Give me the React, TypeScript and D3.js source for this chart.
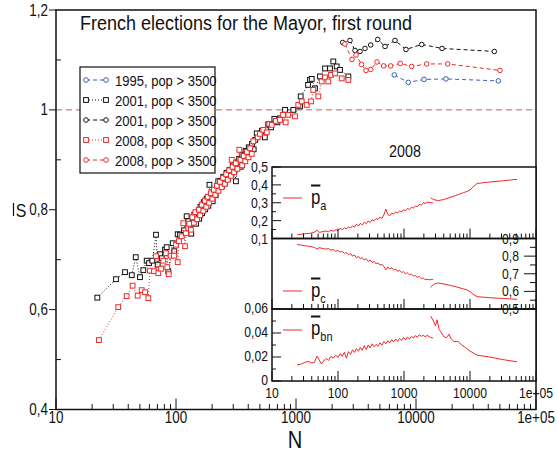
import React from 'react';
import * as d3 from 'd3';

// ---------- data ----------
const n1995 = [6590, 8630, 11660, 17780, 48530];
const s1995 = [1.070, 1.055, 1.061, 1.062, 1.058];

const n2001hi = [2449, 2818, 3102, 3414, 3758, 4193, 4797, 5521, 6683, 8254, 11154, 16480, 44928];
const s2001hi = [1.135, 1.139, 1.119, 1.117, 1.123, 1.130, 1.141, 1.127, 1.139, 1.121, 1.131, 1.123, 1.117];

const n2008hi = [2557, 2930, 3162, 3514, 3831, 4193, 4732, 5370, 6150, 7396, 9204, 12274, 18365, 50119];
const s2008hi = [1.132, 1.101, 1.110, 1.091, 1.079, 1.081, 1.096, 1.088, 1.088, 1.093, 1.087, 1.092, 1.092, 1.079];

const n2001lo = [22.1, 31.6, 37.6, 42.8, 46.2, 50.1, 53.4, 57.0, 59.6, 63.5, 68.1, 70.4, 73.6, 76.0, 81.0, 83.6, 86.3, 93.9, 96.8, 103.3, 108, 116.6, 122.7, 126.6,
  130, 134, 138, 142, 147, 151, 156, 160, 165, 170, 175, 180, 186, 190, 196, 202, 208, 214, 220, 225, 234, 241, 248, 256, 264, 272, 280, 289, 298, 307, 316, 326, 336, 346, 357, 368, 380, 392, 404, 417, 430, 444, 458, 471,
  520, 550, 587, 620, 660, 700, 736, 810, 950, 1080, 1094, 1260, 1308, 1352, 1440, 1585, 1745, 1920, 2046, 2184, 2327, 2730];
const s2001lo = [0.624, 0.661, 0.675, 0.669, 0.705, 0.665, 0.679, 0.698, 0.693, 0.698, 0.750, 0.690, 0.711, 0.703, 0.720, 0.725, 0.677, 0.733, 0.717, 0.751, 0.750, 0.759, 0.787, 0.777,
  0.768, 0.752, 0.781, 0.790, 0.772, 0.795, 0.782, 0.806, 0.793, 0.815, 0.801, 0.822, 0.808, 0.850, 0.826, 0.817, 0.838, 0.829, 0.845, 0.857, 0.858, 0.848, 0.866, 0.853, 0.874, 0.862, 0.880, 0.871, 0.889, 0.878, 0.857, 0.895, 0.902, 0.886, 0.910, 0.899, 0.918, 0.906, 0.925, 0.914, 0.932, 0.921, 0.940, 0.953,
  0.958, 0.945, 0.971, 0.965, 0.982, 0.975, 0.983, 1.000, 1.000, 1.007, 1.027, 1.050, 1.060, 1.062, 1.043, 1.067, 1.083, 1.083, 1.097, 1.087, 1.080, 1.067];

const n2008lo = [22.8, 33.0, 38.8, 43.5, 47.9, 51.8, 55.2, 58.8, 60.7, 65.6, 68.1, 71.2, 75.0, 78.4, 82.5, 84.6, 86.9, 90.3, 96.2, 100, 103.3, 105.9, 111.5, 115.1, 118.9, 121.2, 126.6,
  129, 133, 137, 141, 145, 150, 155, 159, 164, 169, 174, 179, 184, 189, 195, 201, 207, 213, 219, 226, 233, 240, 247, 255, 262, 270, 278, 287, 291, 296, 305, 315, 325, 337, 345, 356, 367, 378, 390, 402, 415, 428, 441,
  480, 500, 534, 570, 600, 628, 680, 736, 780, 820, 862, 981, 1045, 1116, 1228, 1334, 1393, 1534, 1637, 1745, 1860, 1958, 2113, 2404, 2730];
const s2008lo = [0.539, 0.605, 0.627, 0.648, 0.628, 0.639, 0.635, 0.623, 0.678, 0.677, 0.707, 0.673, 0.682, 0.698, 0.713, 0.685, 0.671, 0.708, 0.708, 0.730, 0.695, 0.737, 0.747, 0.773, 0.727, 0.753, 0.763,
  0.772, 0.760, 0.785, 0.774, 0.795, 0.781, 0.800, 0.789, 0.810, 0.798, 0.818, 0.806, 0.826, 0.814, 0.833, 0.822, 0.840, 0.830, 0.848, 0.838, 0.856, 0.845, 0.864, 0.852, 0.871, 0.860, 0.879, 0.868, 0.900, 0.886, 0.875, 0.893, 0.882, 0.920, 0.900, 0.889, 0.908, 0.897, 0.916, 0.905, 0.923, 0.912, 0.937,
  0.945, 0.952, 0.960, 0.955, 0.972, 0.970, 0.978, 0.980, 0.990, 0.975, 0.990, 0.987, 1.010, 1.017, 1.010, 1.017, 1.040, 1.027, 1.057, 1.065, 1.057, 1.070, 1.073, 1.063, 1.060];

// inset (2008) data
const nInsetA = [24, 28, 32, 36, 40, 44, 48, 52, 56, 60, 66, 72, 78, 85, 92, 100, 108, 116, 125, 134, 144, 155, 166, 178, 190, 204, 218, 233, 250, 268, 287, 307, 329, 352, 377, 404, 432, 463, 496, 531, 569, 609, 652, 698, 748, 801, 858, 919, 984, 1054, 1129, 1209, 1295, 1387, 1485, 1591, 1704, 1825, 1955, 2094, 2243, 2402, 2573, 2756];
const nInsetB = [2540, 2800, 3310, 4000, 5000, 6000, 7000, 8000, 9000, 10000, 11000, 12800, 20000, 30000, 51600];
const nInsetBn = [2540, 2800, 3000, 3170, 3400, 3600, 4000, 4400, 4800, 5200, 5700, 6570, 7500, 8920, 10000, 12760, 20000, 30000, 51600];

const paA = [0.121, 0.124, 0.127, 0.128, 0.131, 0.136, 0.146, 0.134, 0.137, 0.139, 0.142, 0.138, 0.146, 0.141, 0.149, 0.145, 0.156, 0.150, 0.160, 0.153, 0.166, 0.158, 0.171, 0.163, 0.180, 0.170, 0.185, 0.176, 0.191, 0.183, 0.198, 0.190, 0.205, 0.199, 0.212, 0.206, 0.219, 0.212, 0.232, 0.265, 0.234, 0.228, 0.243, 0.236, 0.249, 0.243, 0.255, 0.248, 0.261, 0.255, 0.268, 0.262, 0.275, 0.270, 0.282, 0.278, 0.291, 0.286, 0.300, 0.296, 0.304, 0.302, 0.300, 0.299];
const paB = [0.327, 0.318, 0.312, 0.318, 0.330, 0.340, 0.349, 0.357, 0.363, 0.371, 0.386, 0.408, 0.416, 0.422, 0.431];

const pcA = [0.866, 0.862, 0.858, 0.856, 0.853, 0.849, 0.840, 0.848, 0.845, 0.842, 0.840, 0.843, 0.834, 0.838, 0.828, 0.832, 0.822, 0.827, 0.815, 0.821, 0.808, 0.814, 0.800, 0.807, 0.790, 0.799, 0.785, 0.792, 0.778, 0.785, 0.770, 0.778, 0.764, 0.770, 0.756, 0.762, 0.748, 0.754, 0.741, 0.722, 0.738, 0.728, 0.734, 0.721, 0.727, 0.714, 0.719, 0.708, 0.712, 0.700, 0.705, 0.694, 0.698, 0.687, 0.690, 0.680, 0.684, 0.673, 0.676, 0.667, 0.668, 0.666, 0.667, 0.668];
const pcB = [0.622, 0.640, 0.648, 0.642, 0.634, 0.627, 0.620, 0.614, 0.608, 0.598, 0.585, 0.570, 0.564, 0.560, 0.555];

const pbnA = [0.0133, 0.0142, 0.0158, 0.0162, 0.0150, 0.0155, 0.0208, 0.0175, 0.0142, 0.0165, 0.0188, 0.0172, 0.0205, 0.0190, 0.0215, 0.0198, 0.0228, 0.0205, 0.0240, 0.0190, 0.0245, 0.0222, 0.0260, 0.0238, 0.0270, 0.0248, 0.0280, 0.0255, 0.0295, 0.0262, 0.0300, 0.0275, 0.0310, 0.0285, 0.0305, 0.0290, 0.0318, 0.0298, 0.0330, 0.0310, 0.0335, 0.0318, 0.0345, 0.0325, 0.0350, 0.0330, 0.0355, 0.0338, 0.0362, 0.0345, 0.0365, 0.0350, 0.0372, 0.0358, 0.0378, 0.0365, 0.0385, 0.0372, 0.0382, 0.0368, 0.0380, 0.0370, 0.0362, 0.0358];
const pbnB = [0.054, 0.050, 0.046, 0.051, 0.043, 0.041, 0.037, 0.036, 0.039, 0.035, 0.033, 0.033, 0.030, 0.027, 0.025, 0.0215, 0.020, 0.018, 0.016];

// ticks / labels
const xTicks = [10, 100, 1000, 10000, 100000];
const xTickLabels = ['10', '100', '1000', '10000', '1e+05'];
const yMainTicks = [0.4, 0.6, 0.8, 1.0, 1.2];
const yMainLabels = ['0,4', '0,6', '0,8', '1', '1,2'];
const yMainMinor = [0.5, 0.7, 0.9, 1.1];
const yATicks = [0.1, 0.2, 0.3, 0.4, 0.5];
const yALabels = ['0,1', '0,2', '0,3', '0,4', '0,5'];
const yCTicks = [0.5, 0.6, 0.7, 0.8, 0.9];
const yCLabels = ['0,5', '0,6', '0,7', '0,8', '0,9'];
const yBnTicks = [0, 0.02, 0.04, 0.06];
const yBnLabels = ['0', '0,02', '0,04', '0,06'];

const legendLabels = ['1995, pop > 3500', '2001, pop < 3500', '2001, pop > 3500', '2008, pop < 3500', '2008, pop > 3500'];

const title = 'French elections for the Mayor, first round';

// ---------- style ----------
const FONT = "'Liberation Sans', Arial, sans-serif";
const SX = 0.84; // horizontal condensing to mimic a narrow face
const BLUE = '#3b5bb5';
const RED = '#f02828';
const BLACK = '#111';

const xMain = d3.scaleLog().domain([10, 1e5]).range([56, 536]);
const yMain = d3.scaleLinear().domain([0.4, 1.2]).range([409.5, 10]);
const xIn = d3.scaleLog().domain([10, 1e5]).range([272, 536]);
const yA = d3.scaleLinear().domain([0.1, 0.5]).range([238.5, 167]);
const yC = d3.scaleLinear().domain([0.5, 0.9]).range([309, 238.5]);
const yBn = d3.scaleLinear().domain([0, 0.06]).range([381, 309]);

const minorLog: number[] = [];
[10, 100, 1000, 10000].forEach(d => { for (let k = 2; k <= 9; k++) minorLog.push(d * k); });

function zip(a: number[], b: number[]): [number, number][] { return a.map((v, i) => [v, b[i]]); }

function T({ x, y, size, anchor = 'start', children }: { x: number; y: number; size: number; anchor?: string; children: React.ReactNode }) {
  return (
    <text transform={`translate(${x},${y}) scale(${SX},1)`} fontSize={size} textAnchor={anchor as any} fill={BLACK}>{children}</text>
  );
}

function Series({ ns, ss, color, shape, dash }: { ns: number[]; ss: number[]; color: string; shape: 'c' | 's'; dash: string }) {
  const pts = zip(ns, ss);
  const line = d3.line<[number, number]>().x(d => xMain(d[0])).y(d => yMain(d[1]));
  return (
    <g>
      <path d={line(pts) || ''} fill="none" stroke={color} strokeWidth={1} strokeDasharray={dash} />
      {pts.map((p, i) => shape === 'c'
        ? <circle key={i} cx={xMain(p[0])} cy={yMain(p[1])} r={2.3} fill="white" stroke={color} strokeWidth={1} />
        : <rect key={i} x={xMain(p[0]) - 2.4} y={yMain(p[1]) - 2.4} width={4.8} height={4.8} fill="white" stroke={color} strokeWidth={1} />)}
    </g>
  );
}

function InsetLine({ ns, vs, y }: { ns: number[]; vs: number[]; y: d3.ScaleLinear<number, number> }) {
  const line = d3.line<[number, number]>().x(d => xIn(d[0])).y(d => y(d[1]));
  return <path d={line(zip(ns, vs)) || ''} fill="none" stroke={RED} strokeWidth={1} />;
}

function InsetXTicks({ y0 }: { y0: number }) {
  return (
    <g stroke={BLACK} strokeWidth={1}>
      {xTicks.map(t => <line key={'M' + t} x1={xIn(t)} x2={xIn(t)} y1={y0} y2={y0 - 10} />)}
      {minorLog.map(t => <line key={'m' + t} x1={xIn(t)} x2={xIn(t)} y1={y0} y2={y0 - 5} />)}
    </g>
  );
}

function LegendSym({ y, color, shape, dash }: { y: number; color: string; shape: 'c' | 's'; dash: string }) {
  const xs = [86, 106];
  return (
    <g>
      <line x1={xs[0]} x2={xs[1]} y1={y} y2={y} stroke={color} strokeDasharray={dash} strokeWidth={1} />
      {xs.map((x, i) => shape === 'c'
        ? <circle key={i} cx={x} cy={y} r={2.3} fill="white" stroke={color} />
        : <rect key={i} x={x - 2.4} y={y - 2.4} width={4.8} height={4.8} fill="white" stroke={color} />)}
    </g>
  );
}

function PLabel({ x, y, sub }: { x: number; y: number; sub: string }) {
  return (
    <text transform={`translate(${x},${y}) scale(${SX},1)`} fontSize={20} fill={BLACK}>
      <tspan style={{ textDecoration: 'overline' }}>p</tspan>
      <tspan fontSize={13} dy={6}>{sub}</tspan>
    </text>
  );
}

export default function App() {
  const legendRows = [
    { color: BLUE, shape: 'c' as const, dash: '4,3' },
    { color: BLACK, shape: 's' as const, dash: '1,2' },
    { color: BLACK, shape: 'c' as const, dash: '4,3' },
    { color: RED, shape: 's' as const, dash: '1,2' },
    { color: RED, shape: 'c' as const, dash: '4,3' },
  ];
  return (
    <svg width={557} height={452} style={{ position: 'absolute', left: 0, top: 0, background: 'white' }} fontFamily={FONT}>
      <rect x={0} y={0} width={557} height={452} fill="white" />
      {/* dashed reference line S=1 */}
      <line x1={xMain(10)} x2={xMain(1e5)} y1={yMain(1)} y2={yMain(1)} stroke="#b86464" strokeDasharray="6,4" strokeWidth={1} />

      {/* main series */}
      <Series ns={n2001lo} ss={s2001lo} color={BLACK} shape="s" dash="1,2" />
      <Series ns={n2008lo} ss={s2008lo} color={RED} shape="s" dash="1,2" />
      <Series ns={n1995} ss={s1995} color={BLUE} shape="c" dash="4,3" />
      <Series ns={n2001hi} ss={s2001hi} color={BLACK} shape="c" dash="4,3" />
      <Series ns={n2008hi} ss={s2008hi} color={RED} shape="c" dash="4,3" />

      {/* main frame */}
      <rect x={56} y={10} width={480} height={399.5} fill="none" stroke={BLACK} strokeWidth={1.5} />
      <g stroke={BLACK} strokeWidth={1}>
        {xTicks.map(t => <line key={'M' + t} x1={xMain(t)} x2={xMain(t)} y1={409.5} y2={398.5} />)}
        {minorLog.map(t => <line key={'m' + t} x1={xMain(t)} x2={xMain(t)} y1={409.5} y2={404} />)}
        {yMainTicks.map(t => <line key={'Y' + t} x1={49} x2={56} y1={yMain(t)} y2={yMain(t)} />)}
        {yMainMinor.map(t => <line key={'y' + t} x1={56} x2={61} y1={yMain(t)} y2={yMain(t)} />)}
      </g>
      {xTicks.map((t, i) => <T key={t} x={xMain(t)} y={423} size={16} anchor="middle">{xTickLabels[i]}</T>)}
      {yMainTicks.map((t, i) => <T key={t} x={48} y={yMain(t) + 5.5} size={16} anchor="end">{yMainLabels[i]}</T>)}
      <T x={295} y={448} size={24} anchor="middle">N</T>
      <T x={21} y={217} size={19} anchor="middle">S</T>
      <line x1={13.5} x2={13.5} y1={203} y2={216} stroke={BLACK} strokeWidth={1.2} />

      {/* title */}
      <text x={80} y={30} fontSize={20} textLength={332} lengthAdjust="spacingAndGlyphs" fill={BLACK}>{title}</text>

      {/* legend */}
      <rect x={80} y={67} width={135} height={106} fill="white" stroke={BLACK} strokeWidth={1.2} />
      {legendRows.map((r, i) => {
        const y = 80 + i * 20;
        return (
          <g key={i}>
            <LegendSym y={y} color={r.color} shape={r.shape} dash={r.dash} />
            <T x={115} y={y + 5.5} size={15.5}>{legendLabels[i]}</T>
          </g>
        );
      })}

      {/* inset */}
      <T x={405} y={157} size={17} anchor="middle">2008</T>
      <rect x={272} y={167} width={264} height={214} fill="white" />
      <InsetLine ns={nInsetA} vs={paA} y={yA} />
      <InsetLine ns={nInsetB} vs={paB} y={yA} />
      <InsetLine ns={nInsetA} vs={pcA} y={yC} />
      <InsetLine ns={nInsetB} vs={pcB} y={yC} />
      <InsetLine ns={nInsetA} vs={pbnA} y={yBn} />
      <InsetLine ns={nInsetBn} vs={pbnB} y={yBn} />

      <g fill="none" stroke={BLACK} strokeWidth={1.5}>
        <rect x={272} y={167} width={264} height={71.5} />
        <rect x={272} y={238.5} width={264} height={70.5} />
        <rect x={272} y={309} width={264} height={72} />
      </g>
      <InsetXTicks y0={238.5} />
      <InsetXTicks y0={309} />
      <InsetXTicks y0={381} />
      <g stroke={BLACK} strokeWidth={1}>
        {yATicks.map(t => <line key={'a' + t} x1={272} x2={281} y1={yA(t)} y2={yA(t)} />)}
        {[0.15, 0.25, 0.35, 0.45].map(t => <line key={'am' + t} x1={272} x2={276} y1={yA(t)} y2={yA(t)} />)}
        {yCTicks.map(t => <line key={'c' + t} x1={536} x2={524} y1={yC(t)} y2={yC(t)} />)}
        {[0.55, 0.65, 0.75, 0.85].map(t => <line key={'cm' + t} x1={536} x2={530} y1={yC(t)} y2={yC(t)} />)}
        {yBnTicks.map(t => <line key={'b' + t} x1={272} x2={281} y1={yBn(t)} y2={yBn(t)} />)}
        {[0.01, 0.03, 0.05].map(t => <line key={'bm' + t} x1={272} x2={276} y1={yBn(t)} y2={yBn(t)} />)}
      </g>
      {yATicks.map((t, i) => <T key={'la' + t} x={268} y={yA(t) + 5} size={14.5} anchor="end">{yALabels[i]}</T>)}
      {yCTicks.map((t, i) => <T key={'lc' + t} x={519} y={yC(t) + 5} size={14.5} anchor="end">{yCLabels[i]}</T>)}
      {yBnTicks.map((t, i) => <T key={'lb' + t} x={268} y={yBn(t) + 4} size={14.5} anchor="end">{yBnLabels[i]}</T>)}
      {xTicks.map((t, i) => <T key={'lx' + t} x={xIn(t)} y={398} size={14.5} anchor="middle">{xTickLabels[i]}</T>)}

      {/* inset legends */}
      <g stroke={RED} strokeWidth={1}>
        <line x1={283} x2={302} y1={198} y2={198} />
        <line x1={283} x2={302} y1={291} y2={291} />
        <line x1={283} x2={302} y1={330} y2={330} />
      </g>
      <PLabel x={311} y={204} sub="a" />
      <PLabel x={311} y={297} sub="c" />
      <PLabel x={311} y={335} sub="bn" />
    </svg>
  );
}
